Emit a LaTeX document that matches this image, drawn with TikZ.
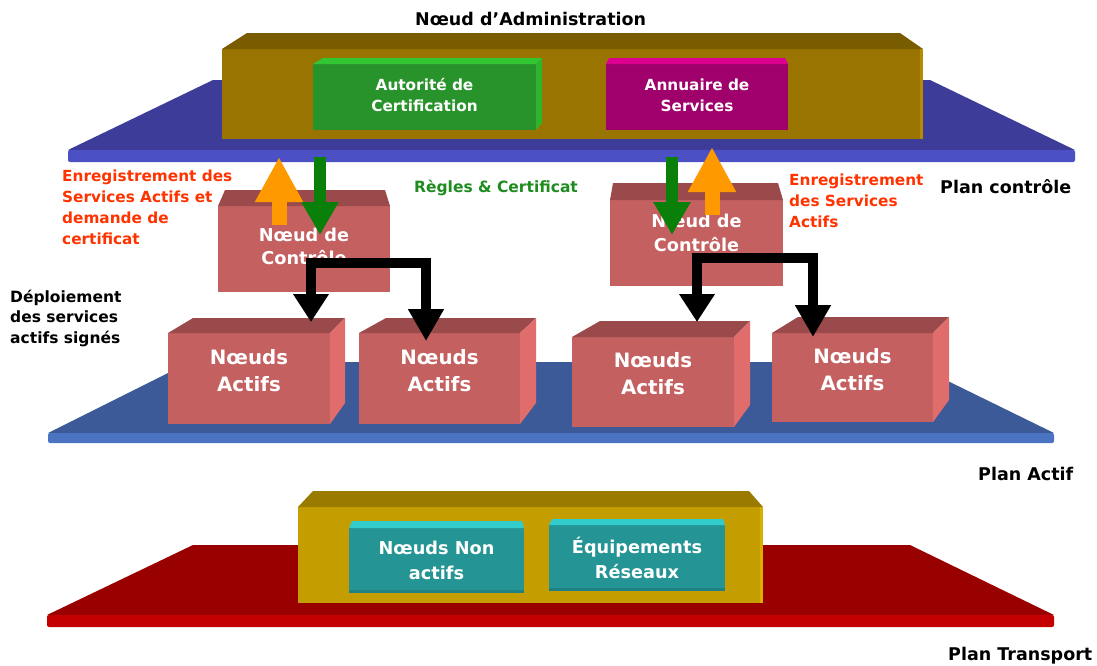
\documentclass[tikz,border=0pt]{standalone}
\usepackage{fontspec}
\setmainfont{DejaVu Sans}
\usetikzlibrary{arrows.meta}

% plane colours
\definecolor{ctrlTop}{HTML}{3D3D99}
\definecolor{ctrlEdge}{HTML}{4B50C4}
\definecolor{actTop}{HTML}{3C5A98}
\definecolor{actEdge}{HTML}{4A73C2}
\definecolor{trTop}{HTML}{990000}
\definecolor{trEdge}{HTML}{C40000}
% block colours
\definecolor{adminFront}{HTML}{9A7400}
\definecolor{adminTop}{HTML}{7A5C00}
\definecolor{adminEdge}{HTML}{B58B00}
\definecolor{caFront}{HTML}{27932A}
\definecolor{caTop}{HTML}{33C633}
\definecolor{caSide}{HTML}{2EB52E}
\definecolor{dirFront}{HTML}{A0006C}
\definecolor{dirTop}{HTML}{DD0090}
\definecolor{nodeFront}{HTML}{C46060}
\definecolor{nodeTop}{HTML}{9A4A4A}
\definecolor{nodeSide}{HTML}{E06C6C}
\definecolor{trFront}{HTML}{C49E00}
\definecolor{trBoxTop}{HTML}{9A7B00}
\definecolor{trBoxEdge}{HTML}{D9B000}
\definecolor{tealFront}{HTML}{259494}
\definecolor{tealTop}{HTML}{33CCCC}
\definecolor{tealShade}{HTML}{1F8282}
% arrows and notes
\definecolor{upArrow}{HTML}{FF9900}
\definecolor{downArrow}{HTML}{0A7F0A}
\definecolor{noteRed}{HTML}{FF3300}
\definecolor{noteGreen}{HTML}{1E8C1E}

\tikzset{
  face/.style={inner sep=0pt, outer sep=0pt, draw=none},
  boxtext/.style 2 args={text=white, align=center, inner sep=0pt,
    font=\bfseries\fontsize{#1}{#2}\selectfont},
  % multi-line notes are placed by the baseline of their last line
  note/.style={anchor=base west, align=left, inner sep=0pt},
  planelabel/.style={anchor=base west, inner sep=0pt,
    font=\bfseries\fontsize{17.5}{21}\selectfont},
  uparrow/.style={upArrow, line width=15pt,
    -{Triangle[width=45pt,length=45pt]}},
  downarrow/.style={downArrow, line width=12pt,
    -{Triangle[width=35pt,length=33pt]}},
  deploy/.style={black, line width=10pt,
    {Triangle[width=34pt,length=28pt]}-{Triangle[width=34pt,length=32pt]}},
}

% front face of a block: name, x1, y1, x2, y2, colour
\newcommand\frontface[6]{%
  \pgfmathsetmacro\facew{#4-#2}%
  \pgfmathsetmacro\faceh{#5-#3}%
  \node[face, fill=#6, minimum width=\facew pt, minimum height=\faceh pt]
    (#1) at ({(#2+#4)/2},{(#3+#5)/2}) {};}
% top face: name, colour, back-left shift, back-right shift, rise
\newcommand\topface[5]{%
  \fill[#2] (#1.north west) -- ++(#3pt,#5pt)
    -- ([shift={(#4pt,#5pt)}]#1.north east) -- (#1.north east) -- cycle;}
% right side face: name, colour, shift, rise at top, rise at bottom
\newcommand\sideface[5]{%
  \fill[#2] (#1.north east) -- ++(#3pt,#4pt)
    -- ([shift={(#3pt,#5pt)}]#1.south east) -- (#1.south east) -- cycle;}

\begin{document}
\begin{tikzpicture}[x=1pt,y=-1pt]
\useasboundingbox (0,0) rectangle (1097,665);

% ---------- control plane ----------
\fill[ctrlTop] (213,80) -- (930,80) -- (1075,150) -- (68,150) -- cycle;
\fill[ctrlEdge, rounded corners=2pt] (68,150) rectangle (1075,162);

% administration node
\frontface{admin}{222}{49}{923}{139}{adminFront}
\topface{admin}{adminTop}{25}{-23}{16}
\fill[adminEdge] ([xshift=-3pt]admin.north east) rectangle (admin.south east);

% certification authority
\frontface{ca}{313}{64}{536}{130}{caFront}
\topface{ca}{caTop}{10}{6}{6}
\sideface{ca}{caSide}{6}{6}{7}
\node[boxtext={15.3}{21}] (caText) at ([yshift=2pt]ca.center)
  {Autorité de\\Certification};

% service directory
\frontface{dir}{606}{64}{788}{130}{dirFront}
\topface{dir}{dirTop}{3}{-3}{6}
\node[boxtext={15.3}{21}] (dirText) at ([yshift=2pt]dir.center)
  {Annuaire de\\Services};

% ---------- active plane ----------
\fill[actTop] (190,362) -- (909,362) -- (1054,433) -- (48,433) -- cycle;
\fill[actEdge, rounded corners=2pt] (48,433) rectangle (1054,443);

% control nodes
\frontface{ctrlL}{218}{206}{390}{292}{nodeFront}
\topface{ctrlL}{nodeTop}{7}{-5}{16}
\node[boxtext={17.7}{23.5}] (ctrlLText) at ([yshift=2.5pt]ctrlL.center)
  {Nœud de\\Contrôle};

\frontface{ctrlR}{610}{200}{783}{286}{nodeFront}
\topface{ctrlR}{nodeTop}{3}{-5}{17}
\node[boxtext={17.7}{23.5}] (ctrlRText) at ([yshift=10pt]ctrlR.center)
  {Nœud de\\Contrôle};

% active nodes
\frontface{act1}{168}{333}{330}{424}{nodeFront}
\topface{act1}{nodeTop}{25}{15}{15}
\sideface{act1}{nodeSide}{15}{15}{21}
\node[boxtext={19.8}{27}] (act1Text) at ([yshift=8pt]act1.center)
  {Nœuds\\Actifs};

\frontface{act2}{359}{333}{520}{424}{nodeFront}
\topface{act2}{nodeTop}{27}{16}{15}
\sideface{act2}{nodeSide}{16}{15}{21}
\node[boxtext={19.8}{27}] (act2Text) at ([yshift=8pt]act2.center)
  {Nœuds\\Actifs};

\frontface{act3}{572}{337}{734}{427}{nodeFront}
\topface{act3}{nodeTop}{28}{16}{16}
\sideface{act3}{nodeSide}{16}{16}{22}
\node[boxtext={19.8}{27}] (act3Text) at ([yshift=8pt]act3.center)
  {Nœuds\\Actifs};

\frontface{act4}{772}{333}{933}{422}{nodeFront}
\topface{act4}{nodeTop}{26}{16}{16}
\sideface{act4}{nodeSide}{16}{16}{22}
\node[boxtext={19.8}{27}] (act4Text) at ([yshift=8pt]act4.center)
  {Nœuds\\Actifs};

% ---------- transport plane ----------
\fill[trTop] (193,545) -- (910,545) -- (1054,615) -- (47,615) -- cycle;
\fill[trEdge, rounded corners=2pt] (47,615) rectangle (1054,627);

\frontface{trans}{298}{507}{763}{603}{trFront}
\topface{trans}{trBoxTop}{15}{-14}{16}
\fill[trBoxEdge] ([xshift=-3pt]trans.north east) rectangle (trans.south east);

\frontface{teal1}{349}{528}{524}{593}{tealFront}
\topface{teal1}{tealTop}{3}{-2}{7}
\fill[tealShade] (teal1.south west) rectangle ([yshift=3pt]teal1.south east);
\node[boxtext={17.7}{24.5}] (teal1Text) at (teal1.center)
  {Nœuds Non\\actifs};

\frontface{teal2}{549}{525}{725}{591}{tealFront}
\topface{teal2}{tealTop}{3}{-2}{6}
\fill[tealShade] (teal2.south west) rectangle ([yshift=3pt]teal2.south east);
\node[boxtext={17.7}{24.5}] (teal2Text) at (teal2.center)
  {Équipements\\Réseaux};

% ---------- registration and rule arrows ----------
\coordinate (regLfrom) at (279,225);
\coordinate (regLto)   at (279,157);
\coordinate (ruleLfrom) at (320,157);
\coordinate (ruleLto)   at (320,235);
\coordinate (ruleRfrom) at (672,157);
\coordinate (ruleRto)   at (672,235);
\coordinate (regRfrom) at (712,215);
\coordinate (regRto)   at (712,147);
\draw[uparrow] (regLfrom) -- (regLto);
\draw[downarrow] (ruleLfrom) -- (ruleLto);
\draw[downarrow] (ruleRfrom) -- (ruleRto);
\draw[uparrow] (regRfrom) -- (regRto);

% ---------- deployment arrows ----------
\coordinate (depA1) at (311,322);
\coordinate (depA2) at (426,341);
\coordinate (barA)  at (0,262.5);
\draw[deploy] (depA1) -- (depA1 |- barA) -- (depA2 |- barA) -- (depA2);

\coordinate (depB1) at (697,322);
\coordinate (depB2) at (813,337);
\coordinate (barB)  at (0,258);
\draw[deploy] (depB1) -- (depB1 |- barB) -- (depB2 |- barB) -- (depB2);

% ---------- labels ----------
\node[planelabel] (title) at (415,25) {Nœud d’Administration};
\node[planelabel] (planCtrl) at (940,193) {Plan contrôle};
\node[planelabel] (planAct) at (978,480) {Plan Actif};
\node[planelabel] (planTr) at (948,660) {Plan Transport};

\node[note, text=noteRed, font=\bfseries\fontsize{15.3}{21}\selectfont]
  (regLText) at (62,244)
  {Enregistrement des\\Services Actifs et\\demande de\\certificat};
\node[note, text=noteRed, font=\bfseries\fontsize{15.3}{21}\selectfont]
  (regRText) at (789,227)
  {Enregistrement\\des Services\\Actifs};
\node[note, text=noteGreen, font=\bfseries\fontsize{15.5}{21}\selectfont]
  (rulesText) at (414,192) {Règles \& Certificat};
\node[note, font=\bfseries\fontsize{15.5}{20.5}\selectfont]
  (deployText) at (10,343)
  {Déploiement\\des services\\actifs signés};

\end{tikzpicture}
\end{document}
